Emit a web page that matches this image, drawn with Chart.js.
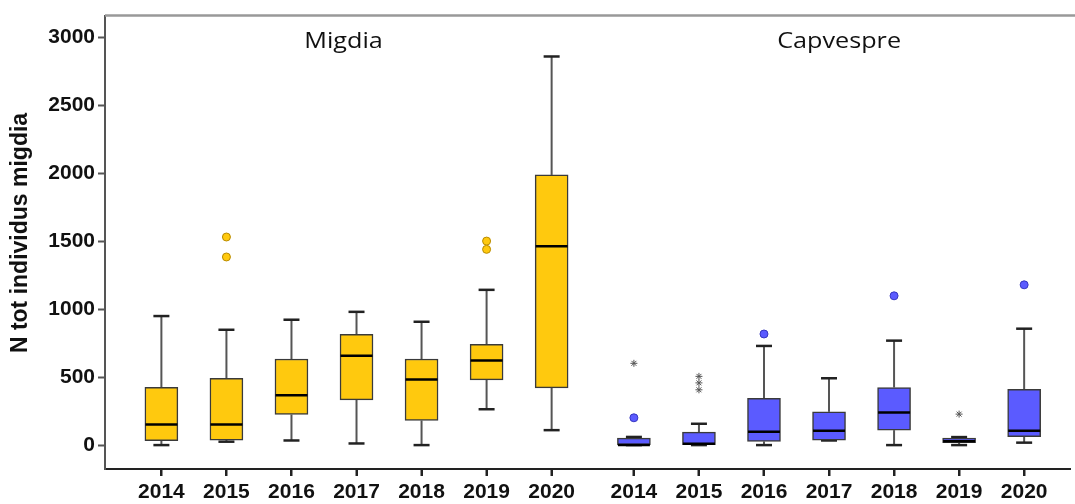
<!DOCTYPE html>
<html>
<head>
<meta charset="utf-8">
<script src="https://cdn.jsdelivr.net/npm/chart.js@4.4.1/dist/chart.umd.min.js"></script>
<style>
  html, body { margin: 0; padding: 0; background: #fff; }
  #wrap { width: 1075px; height: 504px; }
</style>
</head>
<body>
<div id="wrap"><canvas id="boxChart" width="1075" height="504"></canvas></div>
<script>
// anys i grups
const years = ["2014", "2015", "2016", "2017", "2018", "2019", "2020"];
const groups = ["Migdia", "Capvespre"];
const yTicks = [0, 500, 1000, 1500, 2000, 2500, 3000];
const yTitle = "N tot individus migdia";

// Migdia (llegit de la figura)
const migMin = [0, 25, 34, 12, 0, 264, 110];
const migQ1 = [32, 37, 225, 333, 181, 480, 421];
const migMed = [152, 152, 367, 658, 482, 622, 1464];
const migQ3 = [426, 492, 634, 815, 634, 741, 1989];
const migMax = [950, 849, 923, 981, 908, 1143, 2861];
const migOut = [[], [1532, 1385], [], [], [], [1502, 1441], []];
const migExt = [[], [], [], [], [], [], []];

// Capvespre
const capMin = [0, 0, 0, 34, 0, 0, 18];
const capQ1 = [0, 0, 27, 37, 110, 18, 62];
const capMed = [0, 10, 98, 106, 240, 29, 106];
const capQ3 = [51, 95, 345, 245, 424, 51, 411];
const capMax = [60, 157, 730, 492, 769, 59, 857];
const capOut = [[201], [], [818], [], [1099], [], [1180]];
const capExt = [[602], [506, 458, 407], [], [], [], [228], []];

// posicio horitzontal de cada caixa (el segon grup va una mica separat)
const groupShift = 7.265;
function xOf(g, i) {
  return i + g * groupShift;
}

const stats = [
  { min: migMin, q1: migQ1, med: migMed, q3: migQ3, max: migMax, out: migOut, ext: migExt },
  { min: capMin, q1: capQ1, med: capMed, q3: capQ3, max: capMax, out: capOut, ext: capExt },
];
const fills = ["#FFC90E", "#5B5BFF"];
const dotBorders = ["#B88A00", "#3636C0"];

const tickPos = [];
const tickLabels = [];
groups.forEach((g, gi) => {
  years.forEach((y, i) => {
    tickPos.push(xOf(gi, i));
    tickLabels.push(y);
  });
});

const datasets = [];
stats.forEach((s, gi) => {
  datasets.push({
    type: "bar",
    label: groups[gi],
    data: years.map((y, i) => ({ x: xOf(gi, i), y: [s.q1[i], s.q3[i]] })),
    backgroundColor: fills[gi],
    borderColor: "#3a3a3a",
    borderWidth: 1.5,
    borderSkipped: false,
    barThickness: 33,
    grouped: false,
    order: 2,
  });
  const outs = [];
  const exts = [];
  years.forEach((y, i) => {
    s.out[i].forEach((v) => outs.push({ x: xOf(gi, i), y: v }));
    s.ext[i].forEach((v) => exts.push({ x: xOf(gi, i), y: v }));
  });
  datasets.push({
    type: "scatter",
    label: groups[gi] + " atipics",
    data: outs,
    pointRadius: 4,
    pointBackgroundColor: fills[gi],
    pointBorderColor: dotBorders[gi],
    pointBorderWidth: 1,
    order: 1,
  });
  datasets.push({
    type: "scatter",
    label: groups[gi] + " extrems",
    data: exts,
    pointStyle: "star",
    pointRadius: 3.5,
    pointBorderColor: "#555",
    pointBorderWidth: 1,
    order: 1,
  });
});

// bigotis, medianes, marc i titols
const boxPlugin = {
  id: "boxParts",
  beforeDatasetsDraw(chart) {
    const ctx = chart.ctx;
    const xs = chart.scales.x;
    const ys = chart.scales.y;
    ctx.save();
    stats.forEach((s, gi) => {
      years.forEach((y, i) => {
        const px = xs.getPixelForValue(xOf(gi, i));
        const lines = [
          [s.max[i], s.q3[i]],
          [s.q1[i], s.min[i]],
        ];
        ctx.strokeStyle = "#555";
        ctx.lineWidth = 2;
        lines.forEach((l) => {
          ctx.beginPath();
          ctx.moveTo(px, ys.getPixelForValue(l[0]));
          ctx.lineTo(px, ys.getPixelForValue(l[1]));
          ctx.stroke();
        });
        ctx.strokeStyle = "#222";
        ctx.lineWidth = 2.5;
        [s.max[i], s.min[i]].forEach((v) => {
          const py = ys.getPixelForValue(v);
          ctx.beginPath();
          ctx.moveTo(px - 8, py);
          ctx.lineTo(px + 8, py);
          ctx.stroke();
        });
      });
    });
    ctx.restore();
  },
  afterDatasetsDraw(chart) {
    const ctx = chart.ctx;
    const xs = chart.scales.x;
    const ys = chart.scales.y;
    const area = chart.chartArea;
    ctx.save();
    ctx.strokeStyle = "#000";
    ctx.lineWidth = 2.5;
    stats.forEach((s, gi) => {
      years.forEach((y, i) => {
        const px = xs.getPixelForValue(xOf(gi, i));
        const py = ys.getPixelForValue(s.med[i]);
        ctx.beginPath();
        ctx.moveTo(px - 16, py);
        ctx.lineTo(px + 16, py);
        ctx.stroke();
      });
    });
    // vora superior
    ctx.strokeStyle = "#999";
    ctx.lineWidth = 2.5;
    ctx.beginPath();
    ctx.moveTo(area.left, area.top);
    ctx.lineTo(chart.width, area.top);
    ctx.stroke();
    // marques de l'eix x
    ctx.strokeStyle = "#222";
    ctx.lineWidth = 2;
    tickPos.forEach((v) => {
      const px = Math.round(xs.getPixelForValue(v));
      ctx.beginPath();
      ctx.moveTo(px, area.bottom);
      ctx.lineTo(px, area.bottom + 7);
      ctx.stroke();
    });
    // noms dels grups (una mica eixamplats com a l'original)
    ctx.fillStyle = "#111";
    ctx.font = "21px 'Open Sans'";
    ctx.textAlign = "center";
    ctx.textBaseline = "middle";
    [[groups[0], 2.8], [groups[1], 10.42]].forEach((t) => {
      ctx.save();
      ctx.translate(xs.getPixelForValue(t[1]), 42);
      ctx.scale(1.2, 1);
      ctx.fillText(t[0], 0, 0);
      ctx.restore();
    });
    // titol de l'eix y
    ctx.save();
    ctx.translate(21, 233);
    ctx.rotate(-Math.PI / 2);
    ctx.font = "bold 23px 'Liberation Sans', Arial, sans-serif";
    ctx.fillText(yTitle, 0, 0);
    ctx.restore();
    ctx.restore();
  },
};

const boldFont = { family: "'Liberation Sans', Arial, sans-serif", size: 21, weight: "bold" };

new Chart(document.getElementById("boxChart"), {
  type: "scatter",
  data: { datasets: datasets },
  plugins: [boxPlugin],
  options: {
    responsive: false,
    animation: false,
    layout: { padding: { top: 14, right: 0, left: 0, bottom: 0 } },
    plugins: {
      legend: { display: false },
      tooltip: { enabled: false },
    },
    scales: {
      x: {
        type: "linear",
        min: -0.867,
        max: 13.97,
        offset: false,
        afterBuildTicks: (scale) => {
          scale.ticks = tickPos.map((v) => ({ value: v }));
        },
        afterFit: (scale) => {
          scale.height = 35;
        },
        ticks: {
          callback: (v, i) => tickLabels[i],
          font: boldFont,
          color: "#111",
          padding: 4,
          maxRotation: 0,
          autoSkip: false,
        },
        grid: {
          offset: false,
          drawOnChartArea: false,
          tickLength: 7,
          tickColor: "#222",
          tickWidth: 2,
        },
        border: { color: "#222", width: 2 },
      },
      y: {
        min: -176,
        max: 3162,
        afterBuildTicks: (scale) => {
          scale.ticks = yTicks.map((v) => ({ value: v }));
        },
        afterFit: (scale) => {
          scale.width = 105;
        },
        ticks: {
          callback: (v) => String(v),
          font: boldFont,
          color: "#111",
          padding: 3,
        },
        grid: {
          drawOnChartArea: false,
          tickLength: 7,
          tickColor: "#555",
          tickWidth: 2,
        },
        border: { color: "#555", width: 2 },
      },
    },
  },
});
</script>
</body>
</html>
